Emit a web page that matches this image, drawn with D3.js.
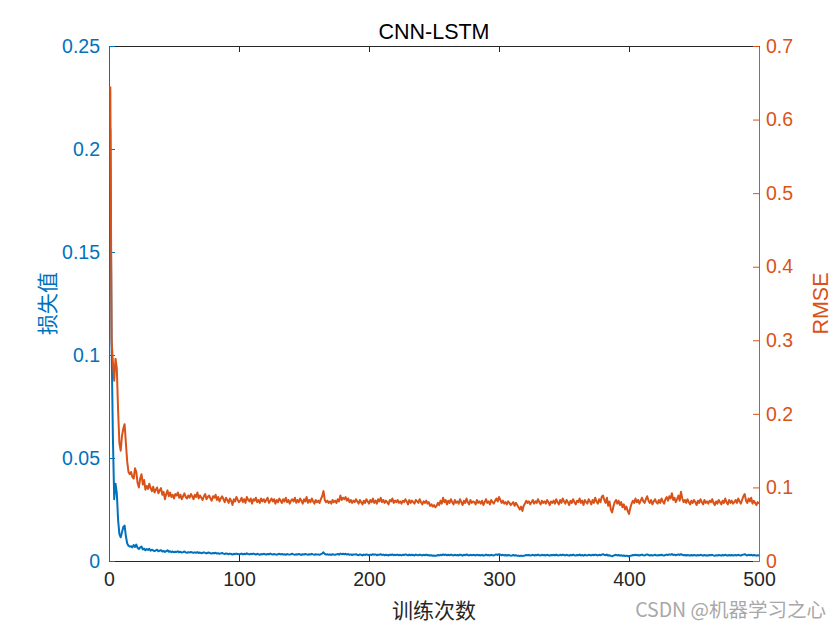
<!DOCTYPE html>
<html><head><meta charset="utf-8">
<script src="https://cdn.jsdelivr.net/npm/d3@7"></script>
<style>body{margin:0;background:#fff}svg{display:block}text{font-family:"Liberation Sans",Arial,sans-serif}</style>
</head><body>
<div id="chart"></div>
<script>
const title = "CNN-LSTM";
const xLabel = "训练次数";
const yLeftLabel = "损失值";
const yRightLabel = "RMSE";
const watermark = "CSDN @机器学习之心";
const xTicks = [0,100,200,300,400,500];
const yLeftTicks = [0,0.05,0.1,0.15,0.2,0.25];
const yRightTicks = [0,0.1,0.2,0.3,0.4,0.5,0.6,0.7];

const lossValues = [
0.2100,0.1050,0.0600,0.0300,0.0375,0.0330,0.0200,0.0130,0.0115,0.0140,0.0165,0.0172,0.0120,0.0085,0.0074,0.0070,0.0072,0.0066,0.0078,0.0068,
0.0080,0.0064,0.0058,0.0066,0.0070,0.0056,0.0060,0.0052,0.0058,0.0054,0.0059,0.0050,0.0055,0.0051,0.0048,0.0052,0.0055,0.0047,0.0050,0.0053,
0.0046,0.0049,0.0044,0.0048,0.0052,0.0045,0.0047,0.0043,0.0046,0.0042,0.0045,0.0044,0.0047,0.0042,0.0045,0.0041,0.0043,0.0046,0.0042,0.0040,
0.0043,0.0041,0.0044,0.0042,0.0039,0.0042,0.0040,0.0043,0.0039,0.0041,0.0038,0.0040,0.0042,0.0039,0.0037,0.0040,0.0041,0.0038,0.0036,0.0039,
0.0038,0.0040,0.0036,0.0038,0.0035,0.0037,0.0039,0.0036,0.0034,0.0037,0.0035,0.0033,0.0036,0.0034,0.0031,0.0035,0.0033,0.0036,0.0034,0.0032,
0.0034,0.0036,0.0032,0.0035,0.0033,0.0037,0.0034,0.0032,0.0035,0.0033,0.0036,0.0034,0.0031,0.0035,0.0033,0.0030,0.0034,0.0032,0.0035,0.0033,
0.0031,0.0034,0.0032,0.0036,0.0033,0.0031,0.0034,0.0032,0.0030,0.0033,0.0035,0.0032,0.0034,0.0031,0.0033,0.0030,0.0034,0.0032,0.0031,0.0033,
0.0035,0.0032,0.0030,0.0033,0.0031,0.0034,0.0032,0.0029,0.0033,0.0031,0.0034,0.0032,0.0030,0.0033,0.0031,0.0035,0.0032,0.0030,0.0033,0.0031,
0.0032,0.0030,0.0033,0.0036,0.0042,0.0034,0.0031,0.0033,0.0030,0.0032,0.0029,0.0033,0.0031,0.0030,0.0032,0.0034,0.0031,0.0036,0.0033,0.0035,
0.0033,0.0035,0.0031,0.0034,0.0030,0.0032,0.0029,0.0032,0.0031,0.0033,0.0030,0.0028,0.0032,0.0030,0.0027,0.0031,0.0029,0.0032,0.0030,0.0028,
0.0031,0.0029,0.0033,0.0030,0.0032,0.0028,0.0031,0.0030,0.0033,0.0029,0.0031,0.0028,0.0030,0.0029,0.0027,0.0031,0.0029,0.0032,0.0028,0.0030,
0.0029,0.0031,0.0028,0.0030,0.0027,0.0030,0.0029,0.0032,0.0030,0.0027,0.0031,0.0028,0.0030,0.0029,0.0027,0.0031,0.0029,0.0028,0.0031,0.0029,
0.0027,0.0030,0.0028,0.0031,0.0028,0.0029,0.0026,0.0028,0.0025,0.0027,0.0025,0.0026,0.0029,0.0027,0.0030,0.0028,0.0032,0.0029,0.0031,0.0028,
0.0030,0.0028,0.0031,0.0029,0.0027,0.0030,0.0028,0.0029,0.0027,0.0031,0.0029,0.0026,0.0030,0.0028,0.0032,0.0029,0.0027,0.0030,0.0028,0.0029,
0.0029,0.0027,0.0030,0.0028,0.0029,0.0027,0.0030,0.0026,0.0028,0.0031,0.0028,0.0029,0.0027,0.0030,0.0028,0.0027,0.0030,0.0032,0.0029,0.0033,
0.0031,0.0028,0.0030,0.0027,0.0029,0.0026,0.0029,0.0028,0.0026,0.0027,0.0029,0.0026,0.0028,0.0026,0.0025,0.0024,0.0026,0.0024,0.0026,0.0027,
0.0029,0.0028,0.0029,0.0027,0.0028,0.0030,0.0027,0.0029,0.0028,0.0031,0.0028,0.0027,0.0030,0.0028,0.0029,0.0027,0.0030,0.0028,0.0026,0.0029,
0.0028,0.0030,0.0027,0.0031,0.0028,0.0027,0.0030,0.0028,0.0031,0.0029,0.0027,0.0030,0.0028,0.0026,0.0029,0.0028,0.0031,0.0028,0.0027,0.0029,
0.0028,0.0031,0.0027,0.0029,0.0026,0.0030,0.0028,0.0027,0.0030,0.0029,0.0027,0.0030,0.0028,0.0031,0.0029,0.0027,0.0030,0.0028,0.0031,0.0033,
0.0030,0.0028,0.0031,0.0026,0.0028,0.0025,0.0023,0.0026,0.0028,0.0030,0.0027,0.0029,0.0026,0.0028,0.0025,0.0027,0.0024,0.0026,0.0024,0.0022,
0.0025,0.0027,0.0029,0.0028,0.0030,0.0028,0.0029,0.0027,0.0029,0.0031,0.0028,0.0027,0.0030,0.0032,0.0029,0.0027,0.0029,0.0027,0.0028,0.0030,
0.0028,0.0027,0.0029,0.0028,0.0030,0.0028,0.0027,0.0029,0.0031,0.0029,0.0032,0.0030,0.0034,0.0029,0.0031,0.0028,0.0030,0.0032,0.0029,0.0033,
0.0030,0.0028,0.0029,0.0027,0.0029,0.0028,0.0026,0.0029,0.0027,0.0029,0.0028,0.0026,0.0029,0.0027,0.0030,0.0028,0.0026,0.0029,0.0027,0.0028,
0.0027,0.0029,0.0028,0.0030,0.0027,0.0026,0.0028,0.0027,0.0029,0.0028,0.0026,0.0029,0.0027,0.0030,0.0028,0.0026,0.0029,0.0027,0.0029,0.0027,
0.0028,0.0029,0.0027,0.0030,0.0028,0.0027,0.0029,0.0031,0.0033,0.0029,0.0027,0.0030,0.0028,0.0030,0.0027,0.0029,0.0028,0.0026,0.0028,0.0027
];

const rmseValues = [
0.645,0.300,0.270,0.245,0.275,0.262,0.205,0.160,0.150,0.170,0.180,0.186,0.160,0.135,0.121,0.118,0.121,0.114,0.112,0.126,
0.121,0.106,0.100,0.112,0.118,0.104,0.110,0.097,0.102,0.098,0.105,0.099,0.095,0.101,0.093,0.097,0.100,0.092,0.096,0.099,
0.090,0.094,0.084,0.091,0.096,0.088,0.093,0.087,0.090,0.085,0.091,0.089,0.093,0.086,0.090,0.084,0.088,0.092,0.087,0.085,
0.089,0.086,0.091,0.088,0.084,0.090,0.087,0.093,0.085,0.089,0.086,0.083,0.088,0.091,0.084,0.087,0.089,0.085,0.082,0.088,
0.086,0.090,0.083,0.087,0.081,0.085,0.088,0.084,0.080,0.086,0.083,0.079,0.085,0.082,0.076,0.084,0.081,0.087,0.083,0.080,
0.082,0.086,0.080,0.084,0.079,0.087,0.083,0.081,0.085,0.078,0.084,0.082,0.086,0.080,0.083,0.079,0.085,0.081,0.084,0.080,
0.083,0.086,0.079,0.082,0.085,0.081,0.084,0.078,0.083,0.080,0.085,0.082,0.079,0.084,0.081,0.086,0.080,0.083,0.078,0.082,
0.084,0.081,0.086,0.079,0.083,0.080,0.085,0.082,0.078,0.084,0.081,0.087,0.079,0.083,0.080,0.085,0.081,0.078,0.083,0.080,
0.082,0.079,0.084,0.088,0.095,0.083,0.080,0.082,0.079,0.081,0.078,0.083,0.080,0.082,0.079,0.084,0.081,0.089,0.083,0.086,
0.084,0.087,0.082,0.085,0.080,0.083,0.079,0.082,0.080,0.084,0.081,0.078,0.083,0.080,0.077,0.082,0.079,0.084,0.081,0.078,
0.083,0.080,0.085,0.079,0.082,0.078,0.084,0.081,0.086,0.080,0.083,0.079,0.082,0.080,0.077,0.083,0.081,0.085,0.079,0.082,
0.080,0.083,0.079,0.081,0.078,0.082,0.080,0.084,0.081,0.077,0.083,0.079,0.082,0.080,0.078,0.083,0.081,0.079,0.084,0.080,
0.077,0.081,0.079,0.082,0.078,0.080,0.075,0.077,0.074,0.076,0.073,0.075,0.079,0.076,0.082,0.078,0.086,0.080,0.083,0.077,
0.082,0.079,0.084,0.080,0.077,0.083,0.079,0.081,0.078,0.084,0.080,0.076,0.082,0.079,0.085,0.080,0.077,0.083,0.079,0.081,
0.080,0.077,0.083,0.079,0.081,0.078,0.082,0.076,0.080,0.084,0.079,0.081,0.077,0.083,0.080,0.078,0.082,0.085,0.081,0.087,
0.083,0.079,0.082,0.078,0.080,0.077,0.081,0.079,0.076,0.078,0.080,0.075,0.079,0.076,0.073,0.070,0.074,0.068,0.075,0.078,
0.082,0.079,0.081,0.077,0.080,0.083,0.078,0.081,0.079,0.084,0.080,0.077,0.082,0.079,0.081,0.078,0.083,0.080,0.076,0.081,
0.079,0.082,0.078,0.084,0.080,0.077,0.083,0.079,0.085,0.081,0.078,0.083,0.080,0.076,0.082,0.079,0.084,0.080,0.077,0.082,
0.080,0.085,0.079,0.082,0.076,0.083,0.080,0.078,0.084,0.081,0.077,0.083,0.079,0.086,0.081,0.078,0.084,0.080,0.087,0.089,
0.083,0.079,0.086,0.075,0.081,0.070,0.066,0.074,0.080,0.083,0.078,0.082,0.076,0.080,0.073,0.077,0.070,0.074,0.068,0.064,
0.072,0.078,0.082,0.079,0.085,0.080,0.083,0.078,0.082,0.086,0.081,0.079,0.084,0.088,0.082,0.079,0.083,0.077,0.081,0.084,
0.080,0.078,0.083,0.079,0.085,0.081,0.078,0.084,0.087,0.082,0.088,0.085,0.092,0.083,0.086,0.080,0.084,0.089,0.082,0.094,
0.085,0.080,0.083,0.079,0.084,0.080,0.077,0.082,0.079,0.083,0.080,0.076,0.082,0.079,0.084,0.080,0.077,0.083,0.079,0.081,
0.078,0.082,0.080,0.084,0.079,0.076,0.081,0.078,0.083,0.080,0.077,0.082,0.079,0.085,0.080,0.077,0.083,0.079,0.082,0.078,
0.080,0.083,0.079,0.085,0.081,0.078,0.083,0.088,0.091,0.082,0.079,0.085,0.081,0.086,0.078,0.082,0.079,0.076,0.080,0.078
];

const W = 840, H = 630;
const m = {left:109, right:81, top:46, bottom:69};
const iw = W - m.left - m.right, ih = H - m.top - m.bottom;
const blue = "#0072BD", orange = "#D95319", dark = "#262626";

const svg = d3.select("#chart").append("svg").attr("width", W).attr("height", H);
const g = svg.append("g").attr("transform", `translate(${m.left},${m.top})`);

const x = d3.scaleLinear().domain([0,500]).range([0,iw]);
const yL = d3.scaleLinear().domain([0,0.25]).range([ih,0]);
const yR = d3.scaleLinear().domain([0,0.7]).range([ih,0]);

const fs = "19.5px";
function style(sel, color){
  sel.select(".domain").attr("stroke", color).attr("stroke-width", 1);
  sel.selectAll(".tick line").attr("stroke", color);
  sel.selectAll("text").attr("fill", color).style("font-size", fs).style("font-family", '"Liberation Sans",Arial,sans-serif');
}

// top border with mirrored ticks
const xt = g.append("g").call(d3.axisTop(x).tickValues(xTicks).tickSizeInner(-6).tickSizeOuter(0).tickFormat(""));
style(xt, dark);
const xb = g.append("g").attr("transform", `translate(0,${ih})`)
  .call(d3.axisBottom(x).tickValues(xTicks).tickSizeInner(-6).tickSizeOuter(0).tickPadding(11).tickFormat(d3.format("d")));
style(xb, dark);

const yl = g.append("g").call(d3.axisLeft(yL).tickValues(yLeftTicks).tickSizeInner(-6).tickSizeOuter(0).tickPadding(9).tickFormat(d => d === 0 ? "0" : String(+d.toFixed(2))));
style(yl, blue);
const yr = g.append("g").attr("transform", `translate(${iw},0)`)
  .call(d3.axisRight(yR).tickValues(yRightTicks).tickSizeInner(-6).tickSizeOuter(0).tickPadding(7).tickFormat(d => d === 0 ? "0" : String(+d.toFixed(1))));
style(yr, orange);

const lossData = lossValues.map((v,i)=>({x:i+1,y:v}));
const rmseData = rmseValues.map((v,i)=>({x:i+1,y:v}));

g.append("path").datum(lossData)
  .attr("fill","none").attr("stroke",blue).attr("stroke-width",2).attr("stroke-linejoin","round")
  .attr("d", d3.line().x(d=>x(d.x)).y(d=>yL(d.y)));
g.append("path").datum(rmseData)
  .attr("fill","none").attr("stroke",orange).attr("stroke-width",2).attr("stroke-linejoin","round")
  .attr("d", d3.line().x(d=>x(d.x)).y(d=>yR(d.y)));

svg.append("text").attr("x", m.left + iw/2).attr("y", 39).attr("text-anchor","middle")
  .style("font-size","21.5px").attr("fill","#000").text(title);
svg.append("text").attr("x", m.left + iw/2).attr("y", 618).attr("text-anchor","middle")
  .style("font-size","21px").attr("fill",dark).style("font-family",'"Noto Sans CJK SC",sans-serif').text(xLabel);
svg.append("text").attr("transform", `translate(55,${m.top+ih/2}) rotate(-90)`).attr("text-anchor","middle")
  .style("font-size","21px").attr("fill",blue).style("font-family",'"Noto Sans CJK SC",sans-serif').text(yLeftLabel);
svg.append("text").attr("transform", `translate(828,${m.top+ih/2}) rotate(-90)`).attr("text-anchor","middle")
  .style("font-size","21.5px").attr("fill",orange).text(yRightLabel);
svg.append("text").attr("x", 826).attr("y", 617).attr("text-anchor","end")
  .style("font-size","19.5px").attr("fill","#a8a8a8").style("font-family",'"Noto Sans CJK SC",sans-serif').text(watermark);
</script>
</body></html>
